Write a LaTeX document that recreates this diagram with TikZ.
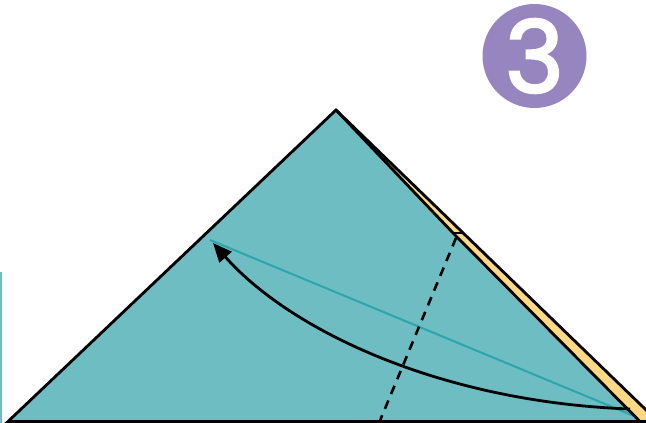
\documentclass[tikz,border=0pt]{standalone}
\usepackage{fontspec}
\newfontfamily\numfont{Poppins}[FakeBold=2.4]
\usetikzlibrary{arrows.meta,calc}
\definecolor{paperteal}{HTML}{6DBDC2}
\definecolor{lineteal}{HTML}{2AA6AC}
\definecolor{paperyellow}{HTML}{FED982}
\definecolor{badgepurple}{HTML}{9685BF}
\tikzset{
  outline/.style={line width=2.8pt, line join=miter, black},
  foldline/.style={line width=2.6pt, dash pattern=on 9pt off 7pt, black},
  guideline/.style={line width=2pt, lineteal},
  movearrow/.style={line width=2.8pt, black, -{Triangle[length=19pt,width=16pt]}},
  badge/.style={circle, fill=badgepurple, minimum size=104pt, inner sep=0pt, text=white, font=\numfont\fontsize{100}{100}\selectfont}
}
\begin{document}
\begin{tikzpicture}[x=1pt,y=-1pt]
\useasboundingbox (0,0) rectangle (646,423);
\begin{scope}
\clip (0,0) rectangle (646,423);
\coordinate (apex) at (336,110);
\coordinate (bl) at (8,421.5);
\coordinate (tk) at (453,233);
\coordinate (br) at (640,421.5);
\coordinate (yo) at (658,421.5);
% back layer (yellow strip)
\fill[paperyellow] (apex) -- (yo) -- (br) -- (tk) -- cycle;
% front layer
\fill[paperteal] (apex) -- (bl) -- (br) -- (tk) -- cycle;
% left sliver
\coordinate (s1) at (1,272);
\coordinate (s2) at (1,423);
\draw[line width=2pt, paperteal] (s1) -- (s2);
% guide line
\coordinate (g1) at (210,240);
\coordinate (g2) at (634,416);
\draw[guideline] (g1) -- (g2);
% fold line
\coordinate (t2) at ($(apex)!0.395!(yo)$);
\coordinate (f1) at (456,238);
\coordinate (f2) at (379,423);
\draw[foldline] (f1) -- (f2);
% outlines
\draw[outline] (apex) -- (tk) -- (br);
\draw[outline] (yo) -- (apex) -- (bl) -- (yo);
\draw[line width=1.6pt] (tk) -- (t2);
% arrow
\coordinate (a1) at (630,409);
\coordinate (a2) at (213,243);
\draw[movearrow] (a1) .. controls (440,402) and (290,330) .. (a2);
\end{scope}
\node[badge] (step3) at (534.5,56) {3};
\end{tikzpicture}
\end{document}
